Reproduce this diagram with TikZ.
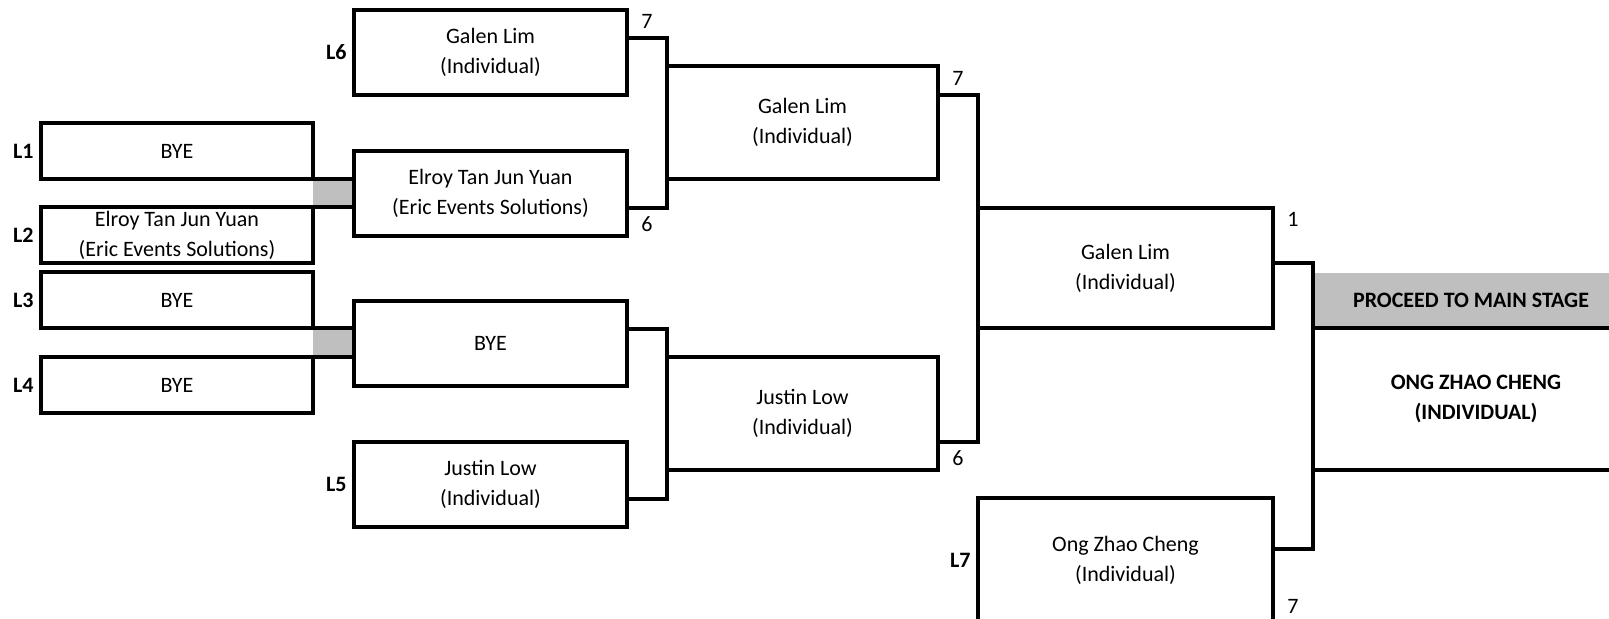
\documentclass[tikz,border=0pt]{standalone}
\usepackage{fontspec}
\setmainfont{Carlito}
\usetikzlibrary{positioning}
\definecolor{cellgray}{RGB}{191,191,191}
\tikzset{
  slot/.style={draw, line width=2pt, inner sep=0pt, outer sep=0pt, align=center,
    font=\fontsize{11}{15}\selectfont},
  firstslot/.style={slot, minimum width=136pt, minimum height=28pt},
  secondslot/.style={slot, minimum width=136.5pt, minimum height=42.5pt},
  thirdslot/.style={slot, minimum width=135.5pt, minimum height=56.5pt},
  fourthslot/.style={slot, minimum width=147.5pt, minimum height=60pt},
  seed/.style={inner sep=0pt, font=\fontsize{11}{15}\selectfont\bfseries},
  score/.style={inner sep=0pt, font=\fontsize{11}{15}\selectfont},
  bracket/.style={line width=2pt},
}
\begin{document}
\begin{tikzpicture}[x=0.5pt,y=0.5pt,yscale=-1]
\useasboundingbox (0,0) rectangle (1609,619);
% grey bye cells
\fill[cellgray] (313,179) rectangle (354,207);
\fill[cellgray] (313,328.5) rectangle (354,357.5);
\fill[cellgray] (1313,273) rectangle (1609,328.5);
% first round
\node[firstslot] (l1) at (177,151) {BYE};
\node[firstslot] (l2) at (177,235) {Elroy Tan Jun Yuan\\(Eric Events Solutions)};
\node[firstslot] (l3) at (177,300.5) {BYE};
\node[firstslot] (l4) at (177,385.5) {BYE};
\node[seed, left=3.5pt of l1] (s1) {L1};
\node[seed, left=3.5pt of l2] (s2) {L2};
\node[seed, left=3.5pt of l3] (s3) {L3};
\node[seed, left=3.5pt of l4] (s4) {L4};
% second round
\node[secondslot] (l6) at (490.5,52.5) {Galen Lim\\(Individual)};
\node[secondslot] (elroy2) at (490.5,193.5) {Elroy Tan Jun Yuan\\(Eric Events Solutions)};
\node[secondslot] (bye2) at (490.5,343.5) {BYE};
\node[secondslot] (l5) at (490.5,484.5) {Justin Low\\(Individual)};
\node[seed, left=3.5pt of l6] (s6) {L6};
\node[seed, left=3.5pt of l5] (s5) {L5};
% bye lines into second round
\draw[bracket] (l1.south east) -- (elroy2.west |- l1.south);
\draw[bracket] (l2.north east) -- (elroy2.west |- l2.north);
\draw[bracket] (l3.south east) -- (bye2.west |- l3.south);
\draw[bracket] (l4.north east) -- (bye2.west |- l4.north);
% third round
\node[thirdslot] (galen3) at (802.5,122.5) {Galen Lim\\(Individual)};
\node[thirdslot] (justin3) at (802.5,413.5) {Justin Low\\(Individual)};
% fourth round
\node[fourthslot] (galen4) at (1125.5,268) {Galen Lim\\(Individual)};
\node[fourthslot, draw=none, minimum height=62pt] (l7) at (1125.5,560) {Ong Zhao Cheng\\(Individual)};
\draw[bracket] (l7.south west) -- (l7.north west) -- (l7.north east) -- (l7.south east);
\node[seed, left=3.5pt of l7] (s7) {L7};
% bracket joints
\coordinate (j2a) at (667,38);
\coordinate (j2b) at (667,208);
\coordinate (j2c) at (667,329);
\coordinate (j2d) at (667,499);
\coordinate (j3a) at (978,95);
\coordinate (j3b) at (978,442);
\coordinate (j4a) at (1313,263);
\coordinate (j4b) at (1313,549);
\draw[bracket] (l6.east |- j2a) -- node[score, above=3.5pt] {7} (j2a) -- (j2b)
  -- node[score, below=3.5pt] {6} (elroy2.east |- j2b);
\draw[bracket] (bye2.east |- j2c) -- (j2c) -- (j2d) -- (l5.east |- j2d);
\draw[bracket] (galen3.east |- j3a) -- node[score, above=3.5pt] {7} (j3a) -- (j3b)
  -- node[score, below=3.5pt] {6} (justin3.east |- j3b);
\draw[bracket] (galen4.east |- j4a) -- node[score, above=17pt] {1} (j4a) -- (j4b)
  -- node[score, below=24pt] {7} (l7.east |- j4b);
% main stage
\coordinate (m1) at (1313,328.5);
\coordinate (m2) at (1609,328.5);
\coordinate (m3) at (1313,470);
\coordinate (m4) at (1609,470);
\draw[bracket] (m1) -- (m2);
\draw[bracket] (m3) -- (m4);
\node[seed, align=center] (proceed) at (1471,300.5) {PROCEED TO MAIN STAGE};
\node[seed, align=center] (winner) at (1476,399) {ONG ZHAO CHENG\\(INDIVIDUAL)};
\end{tikzpicture}
\end{document}
